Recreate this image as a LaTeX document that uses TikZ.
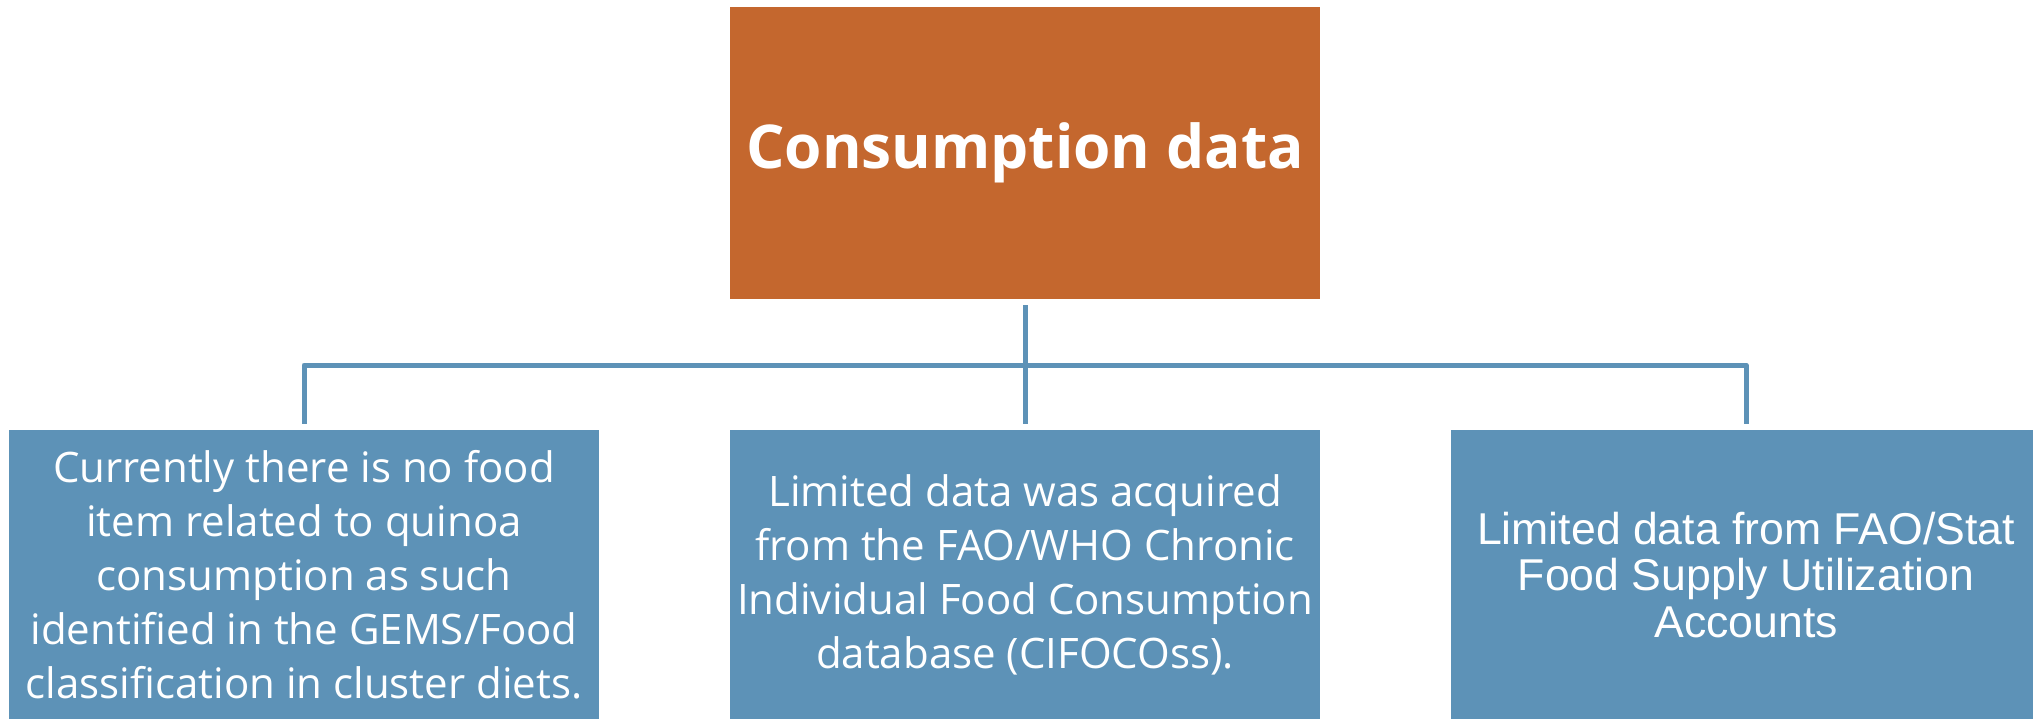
\documentclass[tikz,border=0pt]{standalone}
\usepackage{fontspec}
\setmainfont{Open Sans}
\newfontfamily\arialfont{Liberation Sans}
\definecolor{rust}{HTML}{C4672E}
\definecolor{steel}{HTML}{5D92B7}
\begin{document}
\begin{tikzpicture}[x=0.5pt,y=-0.5pt,
  infobox/.style={fill=steel, minimum width=295pt, minimum height=145pt,
    inner sep=0pt, text=white, align=center,
    font={\fontsize{21}{27}\selectfont}},
  headbox/.style={infobox, fill=rust, minimum height=146pt,
    font={\fontsize{30.2}{36}\selectfont\bfseries}},
  conn/.style={draw=steel, line width=2.5pt, line join=round,
    shorten <=3pt, shorten >=3pt}]
  \useasboundingbox (0,0) rectangle (2033,718);
  \clip (0,0) rectangle (2033,718);

  % heading
  \node[headbox] (top) at (1025,153) {Consumption data};

  % three findings
  \node[infobox] (left) at (304,575)
    {Currently there is no food\\item related to quinoa\\consumption as such\\identified in the GEMS/Food\\classification in cluster diets.};
  \node[infobox] (mid) at (1025,575)
    {Limited data was acquired\\from the FAO/WHO Chronic\\Individual Food Consumption\\database (CIFOCOss).};
  \node[infobox, font={\arialfont\fontsize{22.3}{23.25}\selectfont}] (right) at (1746,575)
    {Limited data from FAO/Stat\\Food Supply Utilization\\Accounts};

  % connectors
  \coordinate (bus) at (1025,365);
  \draw[conn] (top) -- (mid);
  \draw[conn] (left.north) |- (bus) -| (right.north);
\end{tikzpicture}
\end{document}
